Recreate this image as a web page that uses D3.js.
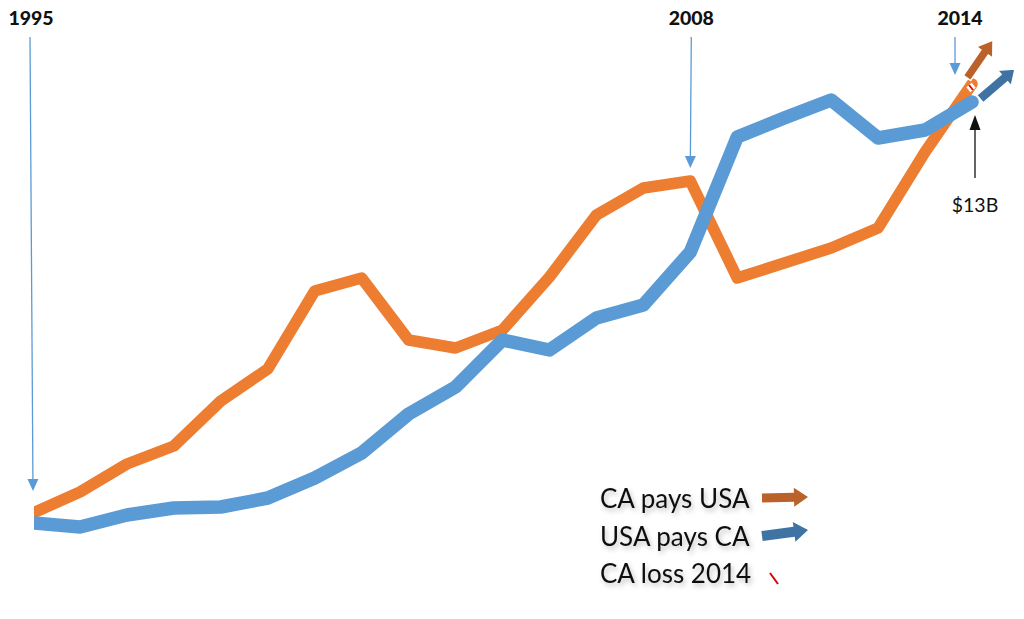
<!DOCTYPE html>
<html>
<head>
<meta charset="utf-8">
<script src="https://cdn.jsdelivr.net/npm/d3@7"></script>
<style>
  body { margin: 0; background: #fff; }
  svg { display: block; }
  .yr { font-family: Lato, "Open Sans", sans-serif; font-weight: 900; font-size: 19.5px; fill: #111; }
  .leg { font-family: Lato, "Open Sans", sans-serif; font-size: 26px; fill: #111; }
</style>
</head>
<body>
<svg id="chart" width="1024" height="619"></svg>
<script>
// two series, one value per year step (arbitrary units)
var caPaysUsa = [87, 108, 136, 154, 199, 231, 309, 322, 260, 252, 270, 323, 385, 412, 419, 322, 337, 352, 372, 448, 516];
var usaPaysCa = [77, 73, 85, 92, 93, 102, 122, 147, 186, 213, 260, 250, 282, 295, 348, 463, 482, 500, 462, 470, 498];
var yearMarks = [{label: "1995", i: 0}, {label: "2008", i: 14}, {label: "2014", i: 20}];
var legendLabels = ["CA pays USA", "USA pays CA", "CA loss 2014"];
var gapLabel = "$13B";

var svg = d3.select("#chart");
var x = d3.scaleLinear().domain([0, caPaysUsa.length - 1]).range([33, 972]);
var y = d3.scaleLinear().domain([0, 600]).range([600, 0]);

var defs = svg.append("defs");
defs.append("clipPath").attr("id", "plot")
  .append("rect").attr("x", 34).attr("y", 0).attr("width", 990).attr("height", 619);
var sh = defs.append("filter").attr("id", "shadow").attr("x", "-10%").attr("y", "-30%").attr("width", "120%").attr("height", "180%");
sh.append("feDropShadow").attr("dx", 2).attr("dy", 3).attr("stdDeviation", 2.5).attr("flood-color", "#000").attr("flood-opacity", 0.25);

var line = d3.line().x(function(d, i) { return x(i); }).y(function(d) { return y(d); });

var g = svg.append("g").attr("clip-path", "url(#plot)");
g.append("path").datum(caPaysUsa).attr("d", line)
  .attr("fill", "none").attr("stroke", "#ED7D31").attr("stroke-width", 11.5)
  .attr("stroke-linejoin", "round").attr("stroke-linecap", "round");
g.append("path").datum(usaPaysCa).attr("d", line)
  .attr("fill", "none").attr("stroke", "#5B9BD5").attr("stroke-width", 13.5)
  .attr("stroke-linejoin", "round").attr("stroke-linecap", "round");

// block arrow polygon from base (x1,y1) to tip (x2,y2)
function blockArrow(x1, y1, x2, y2, sw, hw, hl) {
  var dx = x2 - x1, dy = y2 - y1, len = Math.sqrt(dx * dx + dy * dy);
  var ux = dx / len, uy = dy / len, nx = -uy, ny = ux;
  var pts = [[0, -sw], [len - hl, -sw], [len - hl, -hw], [len, 0], [len - hl, hw], [len - hl, sw], [0, sw]];
  return "M" + pts.map(function(p) {
    return [x1 + ux * p[0] + nx * p[1], y1 + uy * p[0] + ny * p[1]].join(",");
  }).join("L") + "Z";
}

// thin arrow with triangle head pointing at (x2,y2)
function thinArrow(x1, y1, x2, y2, col, w, hw, hl) {
  var dx = x2 - x1, dy = y2 - y1, len = Math.sqrt(dx * dx + dy * dy);
  var ux = dx / len, uy = dy / len, nx = -uy, ny = ux;
  svg.append("line").attr("x1", x1).attr("y1", y1)
    .attr("x2", x2 - ux * hl).attr("y2", y2 - uy * hl)
    .attr("stroke", col).attr("stroke-width", w);
  var bx = x2 - ux * hl, by = y2 - uy * hl;
  svg.append("path")
    .attr("d", "M" + x2 + "," + y2 + "L" + (bx + nx * hw) + "," + (by + ny * hw) + "L" + (bx - nx * hw) + "," + (by - ny * hw) + "Z")
    .attr("fill", col);
}

// year call-outs
var tips = {
  "1995": [x(0), y(caPaysUsa[0]) - 22, 30],
  "2008": [x(14), y(caPaysUsa[14]) - 13, x(14) + 1],
  "2014": [x(20) - 17, 75, x(20) - 17]
};
yearMarks.forEach(function(m) {
  var t = tips[m.label];
  var cx = m.label == "1995" ? 31 : (m.label == "2014" ? 960 : x(m.i) + 1);
  svg.append("text").attr("class", "yr").attr("x", cx).attr("y", 25)
    .attr("text-anchor", "middle").text(m.label);
  thinArrow(t[2], 37, t[0], t[1], "#5B9BD5", 1.3, 5.5, 12);
});

// 2014 direction arrows
var ex = x(20), eyo = y(caPaysUsa[20]), eyb = y(usaPaysCa[20]);
svg.append("path").attr("d", blockArrow(ex - 5, eyo - 6, ex + 21, eyo - 44, 4.5, 10, 15))
  .attr("fill", "#BA6229").attr("stroke", "#fff").attr("stroke-width", 1.5);
svg.append("path").attr("d", blockArrow(ex + 8, eyb - 3, ex + 43, eyb - 33, 5, 10.5, 14))
  .attr("fill", "#3F73A4").attr("stroke", "#fff").attr("stroke-width", 1.5);
svg.append("line").attr("x1", ex - 3).attr("y1", eyo + 1).attr("x2", ex + 1).attr("y2", eyo + 6)
  .attr("stroke", "#fff").attr("stroke-width", 7);
svg.append("line").attr("x1", ex - 3).attr("y1", eyo + 1).attr("x2", ex + 1).attr("y2", eyo + 6)
  .attr("stroke", "#E00000").attr("stroke-width", 1.8);

// gap annotation
thinArrow(ex + 3, 178, ex + 3, eyb + 13, "#111", 1.3, 5.5, 15);
svg.append("text").attr("x", ex + 3).attr("y", 212).attr("text-anchor", "middle")
  .style("font-family", "Lato, 'Open Sans', sans-serif").style("font-size", "19.5px").attr("fill", "#111")
  .text(gapLabel);

// legend
var leg = svg.append("g");
legendLabels.forEach(function(l, i) {
  leg.append("text").attr("class", "leg").attr("x", 600).attr("y", 508 + i * 37.5)
    .attr("filter", "url(#shadow)").text(l);
});
leg.append("path").attr("d", blockArrow(762, 498, 808, 497, 4.5, 9.5, 14)).attr("fill", "#BA6229");
leg.append("path").attr("d", blockArrow(762, 536, 808, 530, 5, 10, 14)).attr("fill", "#3F73A4");
leg.append("line").attr("x1", 770).attr("y1", 573).attr("x2", 778).attr("y2", 584)
  .attr("stroke", "#E00000").attr("stroke-width", 2);
</script>
</body>
</html>
